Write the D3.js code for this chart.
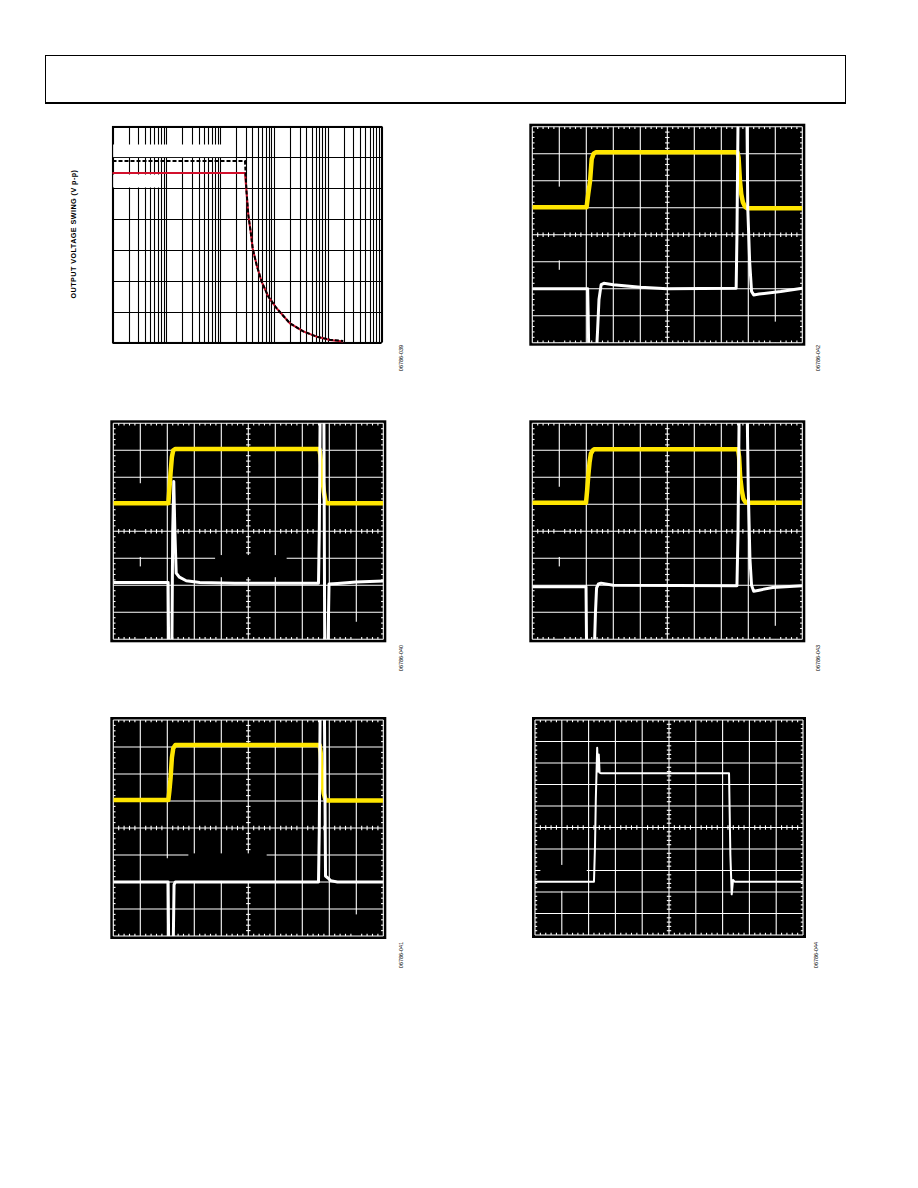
<!DOCTYPE html>
<html><head><meta charset="utf-8">
<script src="https://cdn.jsdelivr.net/npm/d3@7"></script>
<style>body{margin:0;background:#fff}svg{display:block}</style>
</head><body>
<svg id="page" width="918" height="1188"></svg>
<script>
// ---------- DATA ----------
// Chart 1: output voltage swing vs frequency (log x)
const freq = [0.1, 29, 31, 33.5, 37, 40.3, 47.8, 59.2, 78.7, 112, 199, 352, 621, 1099, 1941];
const swingBlack = [5.88, 5.88, 4.88, 4.12, 3.59, 3.05, 2.51, 1.97, 1.49, 1.11, 0.62, 0.36, 0.19, 0.09, 0.05];
const swingRed   = [5.49, 5.49, 4.88, 4.12, 3.59, 3.05, 2.51, 1.97, 1.49, 1.11, 0.62, 0.36, 0.19, 0.08, 0.03];
const yTicks1 = [0, 1, 2, 3, 4, 5, 6, 7];
const yLabel1 = "OUTPUT VOLTAGE SWING (V p-p)";

// Scope traces: time (divisions 0..10), level (divisions from centre)
const p2YellowT = [0, 2.01, 2.07, 2.14, 2.2, 2.27, 2.35, 7.6, 7.64, 7.69, 7.74, 7.8, 7.88, 7.96, 10];
const p2YellowV = [1.02, 1.02, 1.5, 2.0, 2.8, 3.0, 3.05, 3.05, 2.85, 2.0, 1.5, 1.2, 1.03, 0.98, 0.98];
const p2WhiteT = [0, 2.05, 2.07, 2.09, 2.38, 2.42, 2.47, 2.55, 2.65, 3.0, 4.0, 5.0, 7.55, 7.58, 7.62, 7.95, 7.98, 8.05, 8.12, 8.2, 8.4, 9.2, 10];
const p2WhiteV = [-2.0, -2.0, -3.0, -4.3, -4.3, -3.5, -2.4, -1.85, -1.8, -1.85, -1.95, -2.0, -1.98, 0, 4.3, 4.3, 1.0, -1.0, -2.1, -2.23, -2.2, -2.1, -1.98];

const p3YellowT = [0, 2.04, 2.08, 2.12, 2.17, 2.22, 2.3, 7.63, 7.67, 7.74, 7.8, 7.86, 7.92, 10];
const p3YellowV = [1.04, 1.04, 1.6, 2.15, 2.75, 3.0, 3.05, 3.05, 2.8, 2.0, 1.45, 1.1, 1.04, 1.04];
const p3WhiteT = [0, 2.03, 2.05, 2.17, 2.2, 2.24, 2.28, 2.33, 2.45, 2.7, 3.2, 4.5, 7.6, 7.63, 7.66, 7.8, 7.83, 7.95, 7.99, 8.3, 9, 10];
const p3WhiteV = [-1.9, -1.9, -4.3, -4.3, 0, 1.84, 0, -1.55, -1.7, -1.83, -1.9, -1.92, -1.92, 0, 4.3, 4.3, -4.3, -4.3, -1.95, -1.93, -1.88, -1.84];

const p4YellowT = [0, 1.99, 2.03, 2.07, 2.12, 2.17, 2.24, 2.3, 7.62, 7.66, 7.7, 7.76, 7.82, 7.9, 7.97, 10];
const p4YellowV = [1.06, 1.06, 1.5, 2.02, 2.55, 2.88, 3.0, 3.04, 3.04, 2.75, 2.0, 1.5, 1.2, 1.07, 1.06, 1.06];
const p4WhiteT = [0, 1.99, 2.01, 2.3, 2.34, 2.38, 2.45, 2.55, 3.0, 7.58, 7.62, 7.66, 7.96, 8.0, 8.06, 8.12, 8.2, 8.4, 8.9, 10];
const p4WhiteV = [-2.05, -2.05, -4.3, -4.3, -3.0, -2.1, -1.95, -1.92, -2.0, -2.02, 0, 4.3, 4.3, 1.5, -1.0, -2.0, -2.22, -2.18, -2.08, -2.02];

const p5YellowT = [0, 2.04, 2.08, 2.12, 2.17, 2.22, 2.3, 7.64, 7.68, 7.73, 7.79, 7.85, 7.9, 10];
const p5YellowV = [1.04, 1.04, 1.4, 1.84, 2.6, 2.95, 3.07, 3.07, 2.8, 1.95, 1.3, 1.08, 1.02, 1.02];
const p5WhiteT = [0, 2.03, 2.05, 2.22, 2.25, 2.3, 7.6, 7.63, 7.66, 7.82, 7.86, 7.95, 8.05, 8.3, 10];
const p5WhiteV = [-2.0, -2.0, -4.3, -4.3, -2.1, -2.0, -2.0, 0, 4.3, 4.3, -1.78, -1.85, -1.95, -2.0, -2.0];

// panel 6 uses a 10 x 10 graticule
const p6WhiteT = [0, 2.2, 2.24, 2.27, 2.32, 2.35, 2.38, 2.41, 2.47, 7.24, 7.29, 7.34, 7.39, 7.45, 10];
const p6WhiteV = [-2.52, -2.52, -0.81, 1.36, 3.71, 2.6, 3.4, 2.55, 2.52, 2.52, -1.28, -3.11, -2.44, -2.52, -2.52];

const figureCodes = ["06786-039", "06786-042", "06786-040", "06786-043", "06786-041", "06786-044"];

// ---------- DRAW ----------
const svg = d3.select("#page");
const YELLOW = "#ffe600";
const FONT = "Liberation Sans, Arial, sans-serif";

// header box
svg.append("rect").attr("x", 45.5).attr("y", 55.5).attr("width", 800).attr("height", 47)
  .attr("fill", "none").attr("stroke", "#000").attr("stroke-width", 1);
svg.append("line").attr("x1", 45).attr("x2", 846).attr("y1", 103).attr("y2", 103)
  .attr("stroke", "#000").attr("stroke-width", 2);

// ---- Chart 1 ----
(function () {
  const x = d3.scaleLog().domain([0.1, 10000]).range([112.5, 381.5]);
  const y = d3.scaleLinear().domain([0, 7]).range([342.5, 126.5]);
  const g = svg.append("g");
  g.selectAll("line.v").data(x.ticks()).join("line")
    .attr("x1", d => Math.round(x(d)) + 0.5).attr("x2", d => Math.round(x(d)) + 0.5)
    .attr("y1", y(7)).attr("y2", y(0)).attr("stroke", "#000").attr("stroke-width", 1.1);
  g.selectAll("line.h").data(yTicks1).join("line")
    .attr("x1", x(0.1)).attr("x2", x(10000))
    .attr("y1", d => Math.round(y(d)) + 0.5).attr("y2", d => Math.round(y(d)) + 0.5)
    .attr("stroke", "#000").attr("stroke-width", 1.1);
  // masked legend areas
  g.append("rect").attr("x", x(0.1) + 0.6).attr("y", 144.5).attr("width", x(20) - x(0.1) - 1.6).attr("height", 12.6).attr("fill", "#fff");
  g.append("rect").attr("x", x(0.1) + 0.6).attr("y", 174.5).attr("width", x(0.78) - x(0.1) - 0.6).attr("height", 13).attr("fill", "#fff");
  g.append("rect").attr("x", x(0.1)).attr("y", y(7)).attr("width", x(10000) - x(0.1)).attr("height", y(0) - y(7))
    .attr("fill", "none").attr("stroke", "#000").attr("stroke-width", 1.1);

  const line = d3.line().x((d, i) => x(freq[i])).y(d => y(d));
  g.append("path").attr("d", line(swingRed))
    .attr("fill", "none").attr("stroke", "#d2102c").attr("stroke-width", 2);
  g.append("path").attr("d", line(swingBlack))
    .attr("fill", "none").attr("stroke", "#000").attr("stroke-width", 2).attr("stroke-dasharray", "4,2");

  svg.append("text").attr("transform", "translate(76,234) rotate(-90)")
    .attr("text-anchor", "middle").attr("font-family", FONT)
    .attr("font-size", 7.2).attr("font-weight", "bold").attr("letter-spacing", 0.45)
    .text(yLabel1);
})();

// ---- Scope panels ----
function scope(cfg) {
  const { left, top, W, H, ny, yT, yV, wT, wV, whiteWidth } = cfg;
  const half = ny / 2;
  const x = d3.scaleLinear().domain([0, 10]).range([left, left + W]);
  const y = d3.scaleLinear().domain([-half, half]).range([top + H, top]);
  const g = svg.append("g");
  g.append("rect").attr("x", left - 3).attr("y", top - 3).attr("width", W + 6).attr("height", H + 6).attr("fill", "#000");
  const id = "clip" + Math.round(left) + "_" + Math.round(top);
  g.append("clipPath").attr("id", id).append("rect").attr("x", left).attr("y", top).attr("width", W).attr("height", H);
  const grid = g.append("g").attr("stroke", "#fff").attr("stroke-width", 1.1);
  grid.selectAll("line.v").data(x.ticks(10)).join("line")
    .attr("x1", d => x(d)).attr("x2", d => x(d)).attr("y1", top).attr("y2", top + H);
  // gaps in vertical lines
  (cfg.vgaps || []).forEach(m => {
    g.append("rect").attr("x", x(m[0]) - 1.5).attr("width", 3).attr("y", y(m[2])).attr("height", y(m[1]) - y(m[2])).attr("fill", "#000");
  });
  const grid2 = g.append("g").attr("stroke", "#fff").attr("stroke-width", 1.1);
  grid2.selectAll("line.h").data(y.ticks(ny)).join("line")
    .attr("y1", d => y(d)).attr("y2", d => y(d)).attr("x1", left).attr("x2", left + W);
  const minorX = d3.range(1, 50).map(i => i * 0.2).filter(d => Math.abs(d - Math.round(d)) > 0.01);
  const minorY = d3.range(-half * 5 + 1, half * 5).map(i => i * 0.2).filter(d => Math.abs(d - Math.round(d)) > 0.01);
  const tk = 2.2;
  grid2.selectAll("line.mt").data(minorX).join("line").attr("x1", d => x(d)).attr("x2", d => x(d)).attr("y1", top).attr("y2", top + tk);
  grid2.selectAll("line.mb").data(minorX).join("line").attr("x1", d => x(d)).attr("x2", d => x(d)).attr("y1", top + H).attr("y2", top + H - tk);
  grid2.selectAll("line.mc").data(minorX).join("line").attr("x1", d => x(d)).attr("x2", d => x(d)).attr("y1", y(0) - tk).attr("y2", y(0) + tk);
  grid2.selectAll("line.ml").data(minorY).join("line").attr("y1", d => y(d)).attr("y2", d => y(d)).attr("x1", left).attr("x2", left + tk);
  grid2.selectAll("line.mr").data(minorY).join("line").attr("y1", d => y(d)).attr("y2", d => y(d)).attr("x1", left + W).attr("x2", left + W - tk);
  grid2.selectAll("line.mv").data(minorY).join("line").attr("y1", d => y(d)).attr("y2", d => y(d)).attr("x1", x(5) - tk).attr("x2", x(5) + tk);
  (cfg.boxes || []).forEach(m => {
    g.append("rect").attr("x", x(m[0])).attr("y", y(m[3])).attr("width", x(m[1]) - x(m[0])).attr("height", y(m[2]) - y(m[3])).attr("fill", "#000");
  });
  const tr = g.append("g").attr("clip-path", "url(#" + id + ")");
  const line = d3.line();
  if (yT) {
    tr.append("path").attr("d", line(yT.map((t, i) => [x(t), y(yV[i])])))
      .attr("fill", "none").attr("stroke", YELLOW).attr("stroke-width", 4.5).attr("stroke-linejoin", "round");
  }
  tr.append("path").attr("d", line(wT.map((t, i) => [x(t), y(wV[i])])))
    .attr("fill", "none").attr("stroke", "#fff").attr("stroke-width", whiteWidth).attr("stroke-linejoin", "round");
}

scope({ left: 532.3, top: 126.7, W: 270, H: 216, ny: 8, yT: p2YellowT, yV: p2YellowV, wT: p2WhiteT, wV: p2WhiteV, whiteWidth: 3,
  vgaps: [[1, -0.95, 1.78], [1, -4, -1.3], [9, -4, -3.22]] });
scope({ left: 113.3, top: 423.3, W: 270, H: 216, ny: 8, yT: p3YellowT, yV: p3YellowV, wT: p3WhiteT, wV: p3WhiteV, whiteWidth: 3,
  vgaps: [[1, -0.95, 1.78], [1, -4, -1.3], [9, -4, -3.35]], boxes: [[3.77, 6.42, -1.7, -0.88]] });
scope({ left: 532.3, top: 423.3, W: 270, H: 216, ny: 8, yT: p4YellowT, yV: p4YellowV, wT: p4WhiteT, wV: p4WhiteV, whiteWidth: 3,
  vgaps: [[1, -0.95, 1.65], [1, -4, -1.3], [9, -4, -3.5]] });
scope({ left: 113.3, top: 720, W: 270, H: 216, ny: 8, yT: p5YellowT, yV: p5YellowV, wT: p5WhiteT, wV: p5WhiteV, whiteWidth: 3,
  vgaps: [[2, -1.96, -1.12], [9, -4, -3.2]], boxes: [[2.78, 5.68, -1.96, -0.94]] });
scope({ left: 535, top: 720, W: 268, H: 215, ny: 10, yT: null, yV: null, wT: p6WhiteT, wV: p6WhiteV, whiteWidth: 2,
  boxes: [[0.2, 1.93, -2.95, -1.74]] });

// figure codes
const codePos = [[403, 358], [820, 358], [403, 658], [820, 658], [403, 955], [818, 955]];
figureCodes.forEach((c, i) => {
  svg.append("text").attr("transform", `translate(${codePos[i][0]},${codePos[i][1]}) rotate(-90)`)
    .attr("text-anchor", "middle").attr("font-family", FONT)
    .attr("font-size", 5.5).attr("fill", "#000").text(c);
});
</script>
</body></html>
